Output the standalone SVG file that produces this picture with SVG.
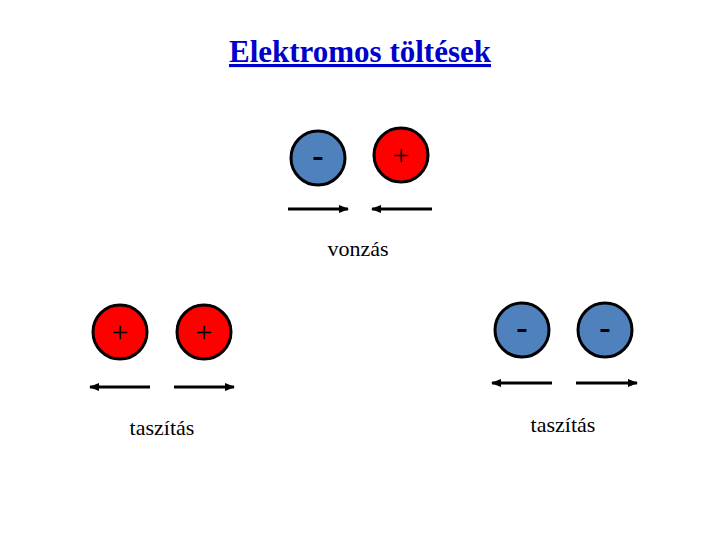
<svg xmlns="http://www.w3.org/2000/svg" width="720" height="540" viewBox="0 0 720 540">
<defs>
<style>
.neg{fill:#4F81BD;stroke:#000;stroke-width:3}
.pos{fill:#FF0000;stroke:#000;stroke-width:3}
.arr{stroke:#000;stroke-width:3;fill:none;marker-end:url(#ah)}
</style>
<marker id="ah" viewBox="0 0 10 10" refX="9" refY="5" markerWidth="3.5" markerHeight="3.5" orient="auto" markerUnits="strokeWidth">
<path d="M0,1 L10,5 L0,9 z" fill="#000"/>
</marker>
</defs>
<rect width="720" height="540" fill="#fff"/>
<text x="360" y="62" font-family="'Liberation Serif', serif" font-size="31" font-weight="bold" fill="#0000CC" text-anchor="middle" text-decoration="underline">Elektromos töltések</text>
<g font-family="'Liberation Serif', serif" fill="#000" text-anchor="middle">
<g id="top-neg"><circle class="neg" cx="318" cy="158" r="27"/><text x="318" y="167" font-size="34" font-weight="bold">-</text></g>
<g id="top-pos"><circle class="pos" cx="401" cy="155" r="27"/><text x="401" y="165" font-size="30">+</text></g>
<g id="left-pos1"><circle class="pos" cx="120" cy="332" r="27"/><text x="120" y="342" font-size="30">+</text></g>
<g id="left-pos2"><circle class="pos" cx="204" cy="332" r="27"/><text x="204" y="342" font-size="30">+</text></g>
<g id="right-neg1"><circle class="neg" cx="522" cy="330" r="27"/><text x="522" y="339" font-size="34" font-weight="bold">-</text></g>
<g id="right-neg2"><circle class="neg" cx="605" cy="330" r="27"/><text x="605" y="339" font-size="34" font-weight="bold">-</text></g>
</g>
<g id="connectors">
<line class="arr" x1="288" y1="209" x2="348" y2="209"/>
<line class="arr" x1="432" y1="209" x2="372" y2="209"/>
<line class="arr" x1="150" y1="387" x2="90" y2="387"/>
<line class="arr" x1="174" y1="387" x2="234" y2="387"/>
<line class="arr" x1="552" y1="383" x2="492" y2="383"/>
<line class="arr" x1="576" y1="383" x2="637" y2="383"/>
</g>
<g font-family="'Liberation Serif', serif" font-size="22" fill="#000" text-anchor="middle">
<text x="358" y="256">vonzás</text>
<text x="162" y="435">taszítás</text>
<text x="563" y="432">taszítás</text>
</g>
</svg>
